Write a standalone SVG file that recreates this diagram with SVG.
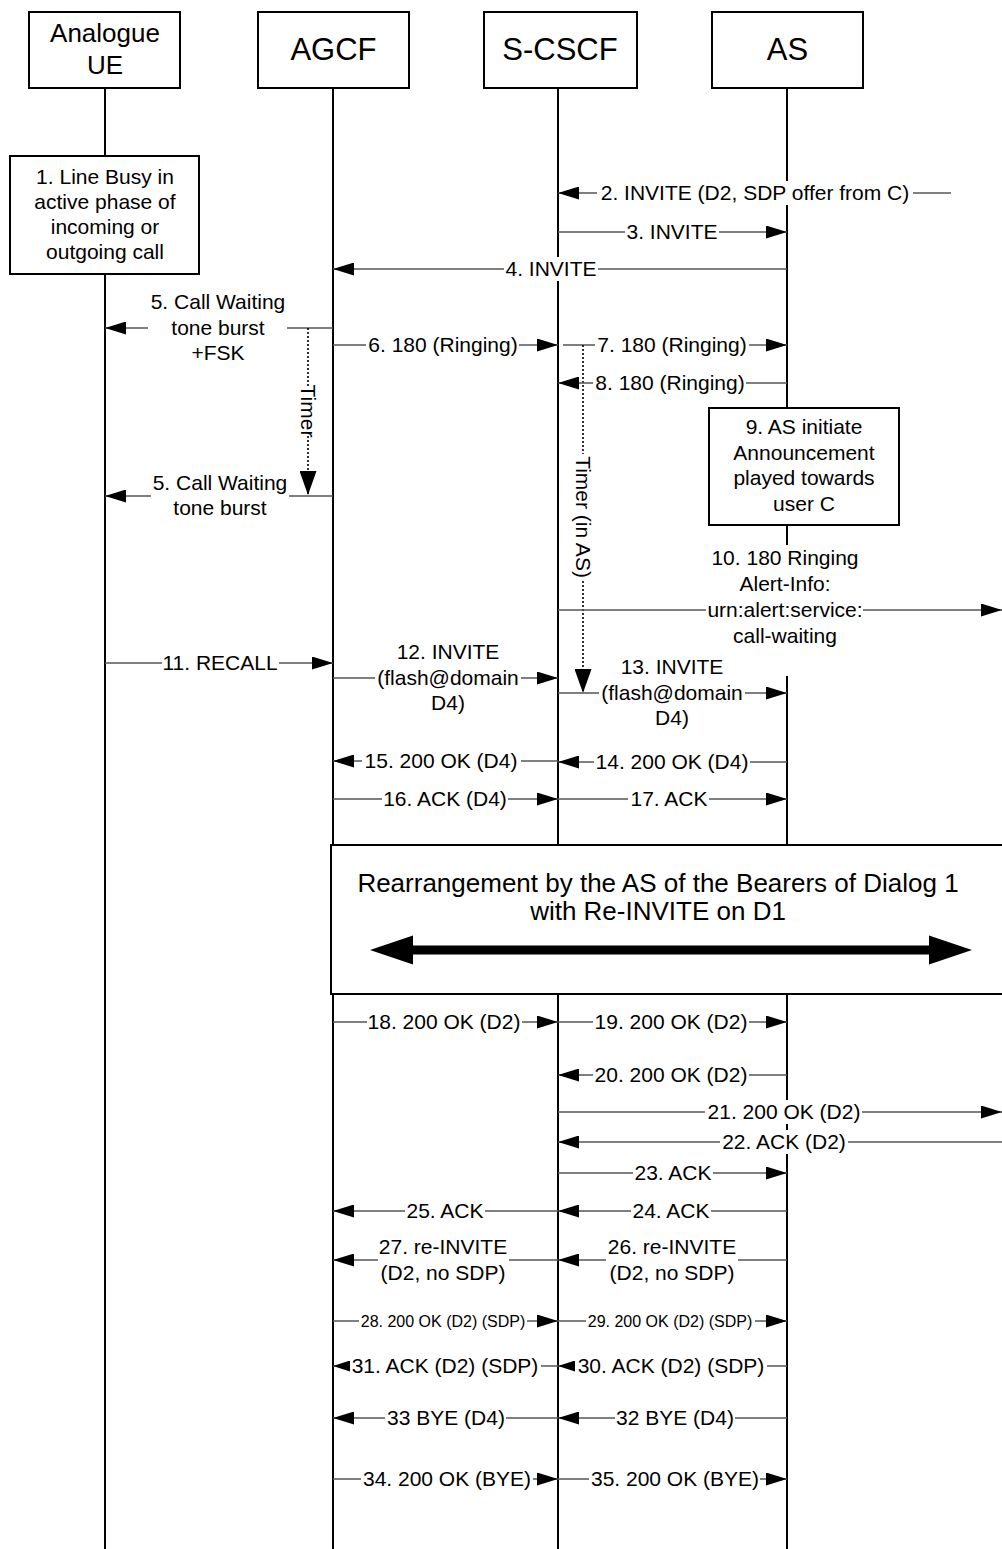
<svg xmlns="http://www.w3.org/2000/svg" width="1002" height="1549" viewBox="0 0 1002 1549">
<style>
.ll{stroke:#000;stroke-width:2;fill:none}
.box{fill:#fff;stroke:#000;stroke-width:2}
.msg{stroke:#555;stroke-width:1.3;fill:none;marker-end:url(#ah)}
.msgs{stroke:#555;stroke-width:1.3;fill:none;marker-end:url(#ahs)}
.tmr{stroke:#000;stroke-width:1.6;stroke-dasharray:2,2;fill:none;marker-end:url(#ta)}
.bg{fill:#fff}
.t{font-family:"Liberation Sans",Arial,sans-serif;font-size:21px;fill:#000;text-anchor:middle}
.sm{font-size:16px}
.h1{font-size:31px}
.h2{font-size:26px}
.big{font-size:26px}
</style>
<defs>
<marker id="ah" markerUnits="userSpaceOnUse" viewBox="0 0 21 13" markerWidth="21" markerHeight="13" refX="21" refY="6.5" orient="auto"><path d="M0,0L21,6.5L0,13Z" fill="#000"/></marker>
<marker id="ahs" markerUnits="userSpaceOnUse" viewBox="0 0 17 11" markerWidth="17" markerHeight="11" refX="17" refY="5.5" orient="auto"><path d="M0,0L17,5.5L0,11Z" fill="#000"/></marker>
<marker id="ta" markerUnits="userSpaceOnUse" viewBox="0 0 24 17" markerWidth="24" markerHeight="17" refX="24" refY="8.5" orient="auto"><path d="M0,0L24,8.5L0,17Z" fill="#000"/></marker>
</defs>
<rect width="1002" height="1549" fill="#fff"/>

<g id="lifelines">
<line class="ll" x1="105" y1="88" x2="105" y2="1549"/>
<line class="ll" x1="333" y1="88" x2="333" y2="1549"/>
<line class="ll" x1="558" y1="88" x2="558" y2="1549"/>
<line class="ll" x1="787" y1="88" x2="787" y2="1549"/>
</g>

<g id="node-ue">
<rect class="box" x="29" y="12" width="151" height="76"/>
<text class="t h2" x="105" y="42">Analogue</text>
<text class="t h2" x="105" y="74">UE</text>
</g>
<g id="node-agcf">
<rect class="box" x="258" y="12" width="151" height="76"/>
<text class="t h1" x="333.5" y="60">AGCF</text>
</g>
<g id="node-scscf">
<rect class="box" x="484" y="12" width="153" height="76"/>
<text class="t h1" x="560" y="60">S-CSCF</text>
</g>
<g id="node-as">
<rect class="box" x="712" y="12" width="151" height="76"/>
<text class="t h1" x="787.5" y="60">AS</text>
</g>

<g id="node-linebusy">
<rect class="box" x="10" y="156" width="189" height="118"/>
<text class="t" x="105"><tspan x="105" y="184">1. Line Busy in</tspan><tspan x="105" y="209">active phase of</tspan><tspan x="105" y="234">incoming or</tspan><tspan x="105" y="259">outgoing call</tspan></text>
</g>

<g id="node-announcement">
<rect class="box" x="709" y="408" width="190" height="117"/>
<text class="t"><tspan x="804" y="434">9. AS initiate</tspan><tspan x="804" y="460">Announcement</tspan><tspan x="804" y="485">played towards</tspan><tspan x="804" y="511">user C</tspan></text>
</g>

<g id="node-rearrangement">
<rect class="box" x="331" y="845" width="700" height="149"/>
<text class="t big" x="658" y="892">Rearrangement by the AS of the Bearers of Dialog 1</text>
<text class="t big" x="658" y="920">with Re-INVITE on D1</text>
<path d="M370,950L413,935.5L413,945.5L929,945.5L929,935.5L972,950L929,964.5L929,954.5L413,954.5L413,964.5Z" fill="#000"/>
</g>

<g id="connectors">
<g id="m2"><line class="msg" x1="951" y1="193" x2="558" y2="193"/><rect class="bg" x="597" y="181" width="316" height="24"/><text class="t" x="755" y="200">2. INVITE (D2, SDP offer from C)</text></g>
<g id="m3"><line class="msg" x1="558" y1="232" x2="787" y2="232"/><rect class="bg" x="625" y="220" width="94" height="24"/><text class="t" x="672" y="239">3. INVITE</text></g>
<g id="m4"><line class="msg" x1="787" y1="269" x2="333" y2="269"/><rect class="bg" x="504" y="257" width="94" height="24"/><text class="t" x="551" y="276">4. INVITE</text></g>
<g id="m5a"><line class="msg" x1="333" y1="328" x2="105" y2="328"/><rect class="bg" x="148" y="289" width="139" height="77"/><text class="t"><tspan x="218" y="309">5. Call Waiting</tspan><tspan x="218" y="335">tone burst</tspan><tspan x="218" y="360">+FSK</tspan></text></g>
<g id="timer1"><line class="tmr" x1="308" y1="328" x2="308" y2="495"/><rect class="bg" x="298" y="386" width="20" height="50"/><text class="t" transform="translate(308,411) rotate(90)" x="0" y="7">Timer</text></g>
<g id="m5b"><line class="msg" x1="333" y1="496" x2="105" y2="496"/><rect class="bg" x="151" y="470" width="138" height="51"/><text class="t"><tspan x="220" y="490">5. Call Waiting</tspan><tspan x="220" y="515">tone burst</tspan></text></g>
<g id="m6"><line class="msg" x1="333" y1="345" x2="558" y2="345"/><rect class="bg" x="366" y="333" width="153" height="24"/><text class="t" x="443" y="352">6. 180 (Ringing)</text></g>
<g id="m7"><line class="msg" x1="563" y1="345" x2="787" y2="345"/><rect class="bg" x="595" y="333" width="154" height="24"/><text class="t" x="672" y="352">7. 180 (Ringing)</text></g>
<g id="timer2"><line class="tmr" x1="583" y1="345" x2="583" y2="693"/><rect class="bg" x="573" y="454" width="21" height="126"/><text class="t" transform="translate(583,517) rotate(90)" x="0" y="7">Timer (in AS)</text></g>
<g id="m8"><line class="msg" x1="787" y1="383" x2="558" y2="383"/><rect class="bg" x="593" y="371" width="153" height="24"/><text class="t" x="670" y="390">8. 180 (Ringing)</text></g>
<g id="m10"><line class="msg" x1="558" y1="610" x2="1002" y2="610"/><rect class="bg" x="706" y="545" width="157" height="131"/><text class="t"><tspan x="785" y="565">10. 180 Ringing</tspan><tspan x="785" y="591">Alert-Info:</tspan><tspan x="785" y="617">urn:alert:service:</tspan><tspan x="785" y="643">call-waiting</tspan></text></g>
<g id="m11"><line class="msg" x1="105" y1="663" x2="333" y2="663"/><rect class="bg" x="162" y="651" width="117" height="24"/><text class="t" x="220" y="670">11. RECALL</text></g>
<g id="m12"><line class="msg" x1="333" y1="678" x2="558" y2="678"/><rect class="bg" x="375" y="639" width="146" height="77"/><text class="t"><tspan x="448" y="659">12. INVITE</tspan><tspan x="448" y="685">(flash@domain</tspan><tspan x="448" y="710">D4)</tspan></text></g>
<g id="m13"><line class="msg" x1="558" y1="693" x2="787" y2="693"/><rect class="bg" x="599" y="655" width="146" height="77"/><text class="t"><tspan x="672" y="674">13. INVITE</tspan><tspan x="672" y="700">(flash@domain</tspan><tspan x="672" y="725">D4)</tspan></text></g>
<g id="m14"><line class="msg" x1="787" y1="762" x2="558" y2="762"/><rect class="bg" x="594" y="750" width="156" height="24"/><text class="t" x="672" y="769">14. 200 OK (D4)</text></g>
<g id="m15"><line class="msg" x1="558" y1="761" x2="333" y2="761"/><rect class="bg" x="362" y="749" width="159" height="24"/><text class="t" x="441" y="768">15. 200 OK (D4)</text></g>
<g id="m16"><line class="msg" x1="333" y1="799" x2="558" y2="799"/><rect class="bg" x="382" y="787" width="126" height="24"/><text class="t" x="445" y="806">16. ACK (D4)</text></g>
<g id="m17"><line class="msg" x1="558" y1="799" x2="787" y2="799"/><rect class="bg" x="628" y="787" width="81" height="24"/><text class="t" x="669" y="806">17. ACK</text></g>
<g id="m18"><line class="msg" x1="333" y1="1022" x2="558" y2="1022"/><rect class="bg" x="367" y="1010" width="155" height="24"/><text class="t" x="444" y="1029">18. 200 OK (D2)</text></g>
<g id="m19"><line class="msg" x1="558" y1="1022" x2="787" y2="1022"/><rect class="bg" x="593" y="1010" width="156" height="24"/><text class="t" x="671" y="1029">19. 200 OK (D2)</text></g>
<g id="m20"><line class="msg" x1="787" y1="1075" x2="558" y2="1075"/><rect class="bg" x="593" y="1063" width="156" height="24"/><text class="t" x="671" y="1082">20. 200 OK (D2)</text></g>
<g id="m21"><line class="msg" x1="558" y1="1112" x2="1002" y2="1112"/><rect class="bg" x="705" y="1100" width="157" height="24"/><text class="t" x="784" y="1119">21. 200 OK (D2)</text></g>
<g id="m22"><line class="msg" x1="1002" y1="1142" x2="558" y2="1142"/><rect class="bg" x="720" y="1130" width="128" height="24"/><text class="t" x="784" y="1149">22. ACK (D2)</text></g>
<g id="m23"><line class="msg" x1="558" y1="1173" x2="787" y2="1173"/><rect class="bg" x="633" y="1161" width="80" height="24"/><text class="t" x="673" y="1180">23. ACK</text></g>
<g id="m24"><line class="msg" x1="787" y1="1211" x2="558" y2="1211"/><rect class="bg" x="631" y="1199" width="80" height="24"/><text class="t" x="671" y="1218">24. ACK</text></g>
<g id="m25"><line class="msg" x1="558" y1="1211" x2="333" y2="1211"/><rect class="bg" x="405" y="1199" width="80" height="24"/><text class="t" x="445" y="1218">25. ACK</text></g>
<g id="m26"><line class="msg" x1="787" y1="1260" x2="558" y2="1260"/><rect class="bg" x="606" y="1235" width="132" height="51"/><text class="t"><tspan x="672" y="1254">26. re-INVITE</tspan><tspan x="672" y="1280">(D2, no SDP)</tspan></text></g>
<g id="m27"><line class="msg" x1="558" y1="1260" x2="333" y2="1260"/><rect class="bg" x="378" y="1235" width="131" height="51"/><text class="t"><tspan x="443" y="1254">27. re-INVITE</tspan><tspan x="443" y="1280">(D2, no SDP)</tspan></text></g>
<g id="m28"><line class="msg" x1="333" y1="1321" x2="558" y2="1321"/><rect class="bg" x="359" y="1311" width="168" height="20"/><text class="t sm" x="443" y="1327">28. 200 OK (D2) (SDP)</text></g>
<g id="m29"><line class="msg" x1="558" y1="1321" x2="787" y2="1321"/><rect class="bg" x="586" y="1311" width="169" height="20"/><text class="t sm" x="670" y="1327">29. 200 OK (D2) (SDP)</text></g>
<g id="m30"><line class="msgs" x1="787" y1="1366" x2="558" y2="1366"/><rect class="bg" x="575" y="1354" width="192" height="24"/><text class="t" x="671" y="1373">30. ACK (D2) (SDP)</text></g>
<g id="m31"><line class="msgs" x1="558" y1="1366" x2="333" y2="1366"/><rect class="bg" x="350" y="1354" width="191" height="24"/><text class="t" x="445" y="1373">31. ACK (D2) (SDP)</text></g>
<g id="m32"><line class="msg" x1="787" y1="1418" x2="558" y2="1418"/><rect class="bg" x="615" y="1406" width="120" height="24"/><text class="t" x="675" y="1425">32 BYE (D4)</text></g>
<g id="m33"><line class="msg" x1="558" y1="1418" x2="333" y2="1418"/><rect class="bg" x="385" y="1406" width="121" height="24"/><text class="t" x="446" y="1425">33 BYE (D4)</text></g>
<g id="m34"><line class="msg" x1="333" y1="1479" x2="558" y2="1479"/><rect class="bg" x="361" y="1467" width="172" height="24"/><text class="t" x="447" y="1486">34. 200 OK (BYE)</text></g>
<g id="m35"><line class="msg" x1="558" y1="1479" x2="787" y2="1479"/><rect class="bg" x="589" y="1467" width="171" height="24"/><text class="t" x="675" y="1486">35. 200 OK (BYE)</text></g>
</g>
</svg>
